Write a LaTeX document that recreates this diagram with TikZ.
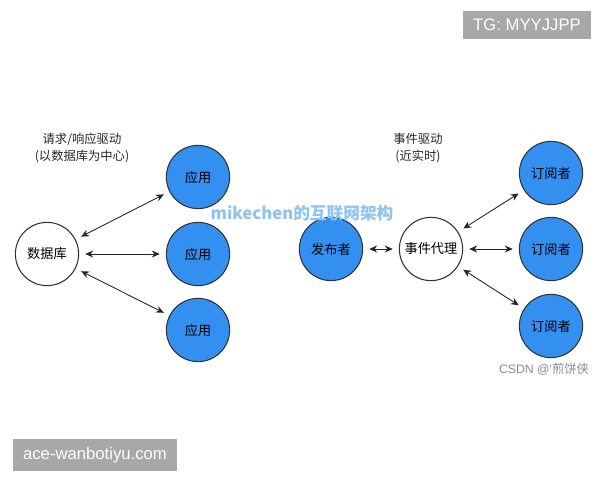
\documentclass[tikz,border=0pt]{standalone}
\usepackage{fontspec}
\setmainfont{Noto Sans CJK SC}
\newfontfamily\latinfont{Liberation Sans}
\usetikzlibrary{arrows.meta, positioning}

\definecolor{nodeblue}{HTML}{3390F0}
\definecolor{markgray}{HTML}{A8A8A8}
\definecolor{markblue}{HTML}{8FC3F0}

\tikzset{
  hubnode/.style={circle, draw=black!80, fill=white, line width=0.6pt, minimum size=36pt, inner sep=0pt, font=\fontsize{7.5}{9}\selectfont},
  bluenode/.style={hubnode, fill=nodeblue},
  link/.style={{Stealth[length=4.5pt,width=4pt]}-{Stealth[length=4.5pt,width=4pt]}, black!85, line width=0.5pt, shorten <=3.5pt, shorten >=3.5pt},
  title/.style={font=\fontsize{7}{10}\selectfont, align=center, text=black!85},
  markbox/.style={fill=markgray, text=white, font=\latinfont\fontsize{9.5}{12}\selectfont, inner xsep=6pt, inner ysep=4.5pt}
}

\begin{document}
\begin{tikzpicture}[x=0.02cm, y=-0.02cm]
  \useasboundingbox (0,0) rectangle (600,480);

  % Request/response side
  \node[title] (lefttitle) at (82,148) {请求/响应驱动\\(以数据库为中心)};
  \node[hubnode] (db) at (47,254) {数据库};
  \node[bluenode] (app1) at (198,177) {应用};
  \node[bluenode] (app2) at (198,254) {应用};
  \node[bluenode] (app3) at (198,330) {应用};
  \draw[link] (db) -- (app1);
  \draw[link] (db) -- (app2);
  \draw[link] (db) -- (app3);

  % Event-driven side
  \node[title] (righttitle) at (418,148) {事件驱动\\(近实时)};
  \node[bluenode] (pub) at (331,249) {发布者};
  \node[hubnode] (broker) at (431,249) {事件代理};
  \node[bluenode] (sub1) at (551,173) {订阅者};
  \node[bluenode] (sub2) at (551,249) {订阅者};
  \node[bluenode] (sub3) at (551,326) {订阅者};
  \draw[link] (pub) -- (broker);
  \draw[link] (broker) -- (sub1);
  \draw[link] (broker) -- (sub2);
  \draw[link] (broker) -- (sub3);

  % Watermarks
  \node[markbox] (tgmark) at (527,25) {TG: MYYJJPP};
  \node[markbox] (sitemark) at (95,455) {ace-wanbotiyu.com};
  \node[font=\fontsize{9.5}{11}\selectfont\bfseries, text=markblue] (blogmark) at (302,213) {mikechen的互联网架构};
  \node[font=\fontsize{7}{9}\selectfont, text=black!45] (csdnmark) at (544,369) {{\latinfont CSDN @\symbol{39}}煎饼侠};
\end{tikzpicture}
\end{document}
